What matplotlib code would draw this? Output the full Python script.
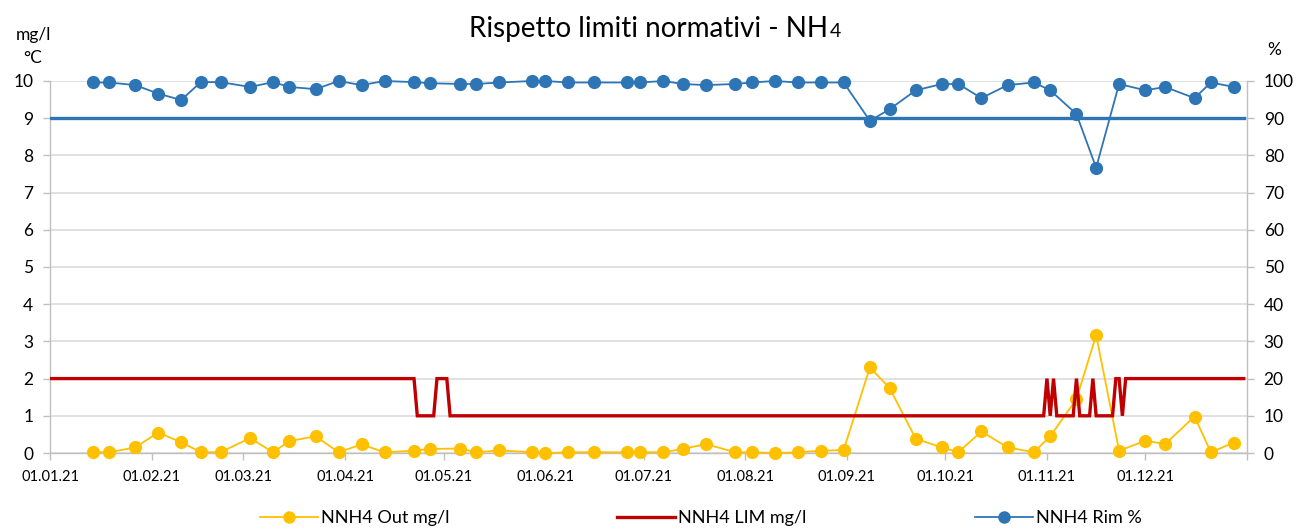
import matplotlib
matplotlib.use("Agg")
import matplotlib.pyplot as plt
from matplotlib.lines import Line2D
import datetime as dt

plt.rcParams['font.family'] = ['Lato', 'DejaVu Sans']

# ---------------- data ----------------
sample_dates = ["2021-01-14", "2021-01-19", "2021-01-27", "2021-02-03", "2021-02-10", "2021-02-16",
                "2021-02-22", "2021-03-03", "2021-03-10", "2021-03-15", "2021-03-23", "2021-03-30",
                "2021-04-06", "2021-04-13", "2021-04-22", "2021-04-27", "2021-05-06", "2021-05-11",
                "2021-05-18", "2021-05-28", "2021-06-01", "2021-06-08", "2021-06-16", "2021-06-26",
                "2021-06-30", "2021-07-07", "2021-07-13", "2021-07-20", "2021-07-29", "2021-08-03",
                "2021-08-10", "2021-08-17", "2021-08-24", "2021-08-31", "2021-09-08", "2021-09-14",
                "2021-09-22", "2021-09-30", "2021-10-05", "2021-10-12", "2021-10-20", "2021-10-28",
                "2021-11-02", "2021-11-10", "2021-11-16", "2021-11-23", "2021-12-01", "2021-12-07",
                "2021-12-16", "2021-12-21", "2021-12-28"]

nh4_out = [0.02, 0.02, 0.15, 0.55, 0.29, 0.02, 0.02, 0.40, 0.02, 0.32, 0.45, 0.02, 0.23, 0.02, 0.06, 0.11,
           0.12, 0.02, 0.07, 0.02, 0.00, 0.02, 0.02, 0.02, 0.02, 0.02, 0.11, 0.24, 0.02, 0.02, 0.00, 0.02,
           0.06, 0.08, 2.30, 1.75, 0.38, 0.15, 0.02, 0.58, 0.15, 0.02, 0.45, 1.45, 3.17, 0.06, 0.33, 0.24,
           0.98, 0.02, 0.28]

nh4_rim = [99.6, 99.6, 98.9, 96.6, 94.9, 99.7, 99.7, 98.4, 99.7, 98.4, 97.8, 100.0, 98.9, 100.0, 99.7, 99.4,
           99.2, 99.2, 99.6, 100.0, 100.0, 99.6, 99.6, 99.6, 99.6, 100.0, 99.2, 98.9, 99.2, 99.6, 100.0, 99.6,
           99.6, 99.6, 89.3, 92.4, 97.5, 99.2, 99.2, 95.4, 98.9, 99.6, 97.5, 91.1, 76.7, 99.2, 97.5, 98.4,
           95.4, 99.6, 98.4]

lim_dates = ["2021-01-01", "2021-04-22", "2021-04-23", "2021-04-28", "2021-04-29", "2021-05-02",
             "2021-05-03", "2021-10-31", "2021-11-01", "2021-11-02", "2021-11-03", "2021-11-04",
             "2021-11-09", "2021-11-10", "2021-11-11", "2021-11-14", "2021-11-15", "2021-11-16",
             "2021-11-21", "2021-11-22", "2021-11-23", "2021-11-24", "2021-11-25", "2021-12-31"]
nh4_lim = [2, 2, 1, 1, 2, 2, 1, 1, 2, 1, 2, 1, 1, 2, 1, 1, 2, 1, 1, 2, 2, 1, 2, 2]

rim_limit_dates = ["2021-01-01", "2021-12-31"]
rim_limit = [90, 90]

month_ticks = ["2021-%02d-01" % m for m in range(1, 13)]

# ---------------- helpers ----------------
def to_dt(lst):
    return [dt.datetime.strptime(s, "%Y-%m-%d") for s in lst]

C_YEL = "#FFC000"
C_RED = "#C00000"
C_BLU = "#2E75B6"
C_GRID = "#D9D9D9"
C_AX = "#BFBFBF"

W, H = 1301, 529
fig = plt.figure(figsize=(W / 100, H / 100), dpi=100)
ax = fig.add_axes([50 / W, (H - 453) / H, (1247 - 50) / W, (453 - 81) / H])
ax2 = ax.twinx()

# ---------------- plotting ----------------
ax.plot(to_dt(sample_dates), nh4_out, color=C_YEL, lw=1.3, marker='o', ms=9.5,
        markeredgewidth=0, zorder=3, clip_on=False)
ax.plot(to_dt(lim_dates), nh4_lim, color=C_RED, lw=2.4, zorder=4, solid_joinstyle='miter')

ax2.plot(to_dt(rim_limit_dates), rim_limit, color=C_BLU, lw=2.4, zorder=3)
ax2.plot(to_dt(sample_dates), nh4_rim, color=C_BLU, lw=1.3, marker='o', ms=9.5,
         markeredgewidth=0, zorder=4, clip_on=False)

# ---------------- axes ----------------
ax.set_xlim(dt.datetime(2021, 1, 1), dt.datetime(2022, 1, 1))
ax.set_ylim(0, 10)
ax2.set_ylim(0, 100)
ax.set_yticks(range(0, 11))
ax2.set_yticks(range(0, 101, 10))
ax.set_xticks(to_dt(month_ticks) + [dt.datetime(2022, 1, 1)])
ax.set_xticklabels([d.strftime("%d.%m.%y") for d in to_dt(month_ticks)] + [""])

ax.grid(axis='y', color=C_GRID, lw=1.1, zorder=0)
ax.set_axisbelow(True)

for a in (ax, ax2):
    a.spines['top'].set_visible(False)
    for s in ('left', 'right', 'bottom'):
        a.spines[s].set_color(C_AX)
        a.spines[s].set_linewidth(1.0)
ax.spines['right'].set_visible(False)
ax2.spines['left'].set_visible(False)
ax2.spines['bottom'].set_visible(False)

ax.tick_params(axis='y', direction='out', length=5, width=1, color=C_AX, pad=7,
               labelsize=12.5, labelcolor='black')
ax2.tick_params(axis='y', direction='out', length=5, width=1, color=C_AX, pad=7,
                labelsize=12.5, labelcolor='black')
ax.tick_params(axis='x', direction='out', length=5, width=1, color=C_AX, pad=7,
               labelsize=10.5, labelcolor='black')

ax.patch.set_alpha(0)

# ---------------- texts ----------------
fig.text(33 / W, 1 - 35 / H, "mg/l", ha='center', va='center', fontsize=12.5)
fig.text(33 / W, 1 - 58 / H, "°C", ha='center', va='center', fontsize=12.5)
fig.text(1274 / W, 1 - 50 / H, "%", ha='center', va='center', fontsize=12.5)

# title: main part + smaller "4", centred as a whole at x=655
t_main = fig.text(0, 1 - 37 / H, "Rispetto limiti normativi - NH", ha='left',
                  va='baseline', fontsize=20)
t_sub = fig.text(0, 1 - 37 / H, "4", ha='left', va='baseline', fontsize=14)
fig.canvas.draw()
r = fig.canvas.get_renderer()
w_main = t_main.get_window_extent(renderer=r).width
w_sub = t_sub.get_window_extent(renderer=r).width
x_start = 655 - (w_main + 1 + w_sub) / 2
t_main.set_x(x_start / W)
t_sub.set_x((x_start + w_main + 1) / W)

# ---------------- legend ----------------
handles = [
    Line2D([], [], color=C_YEL, lw=1.3, marker='o', ms=9, markeredgewidth=0),
    Line2D([], [], color=C_RED, lw=2.4),
    Line2D([], [], color=C_BLU, lw=1.3, marker='o', ms=9, markeredgewidth=0),
]
labels = ["NNH4 Out mg/l", "NNH4 LIM mg/l", "NNH4 Rim %"]
xs = [260, 617, 975]
for h, l, x in zip(handles, labels, xs):
    fig.legend([h], [l], loc='center left', bbox_to_anchor=(x / W, 1 - 518 / H),
               frameon=False, fontsize=13, handlelength=3.2, handletextpad=0.2,
               borderpad=0, borderaxespad=0)

fig.savefig("out.png", dpi=100)
